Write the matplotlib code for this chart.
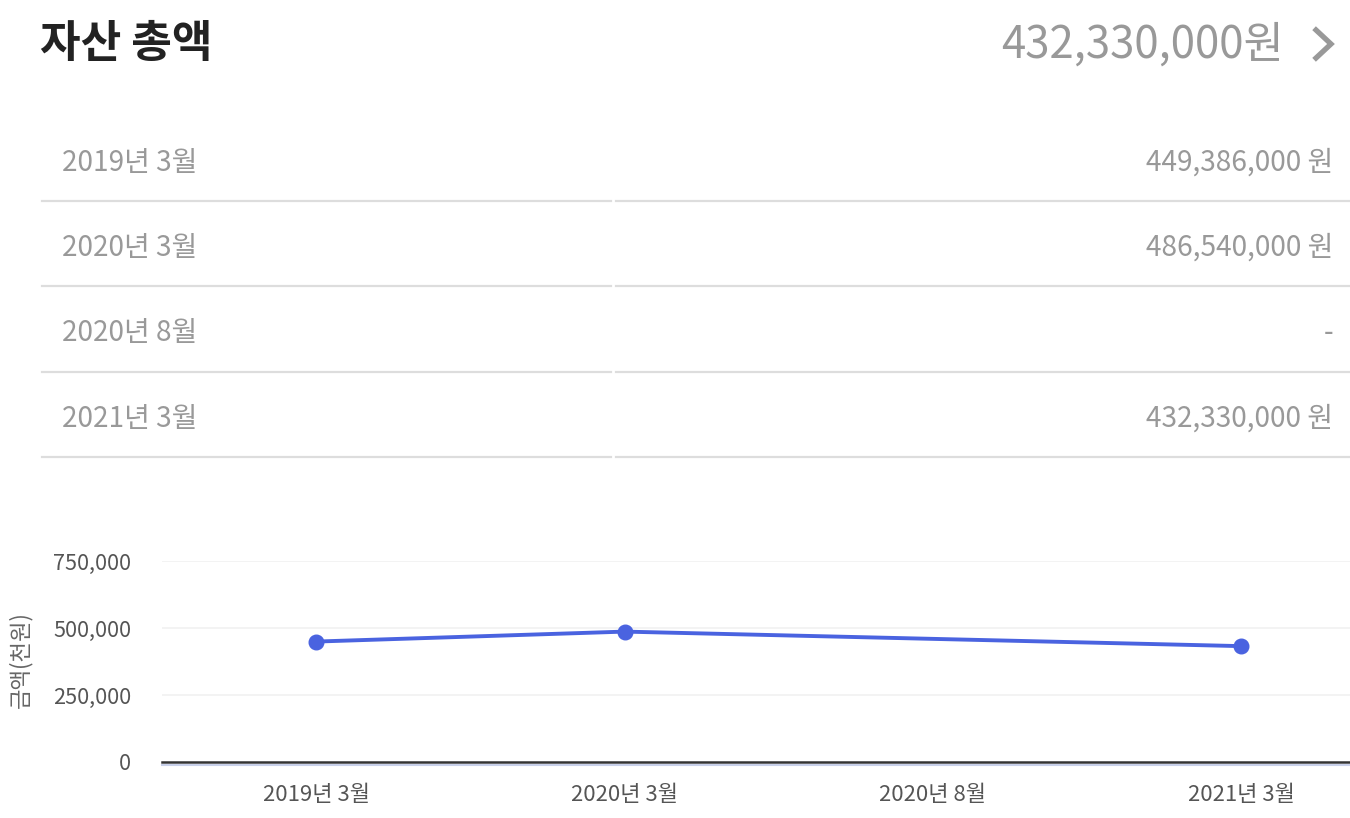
import matplotlib
matplotlib.use("Agg")
import matplotlib.pyplot as plt
from matplotlib.lines import Line2D

plt.rcParams['font.family'] = ['Noto Sans CJK KR', 'DejaVu Sans']

# ---- data ----
title = "자산 총액"
periods = ["2019년 3월", "2020년 3월", "2020년 8월", "2021년 3월"]
amounts_won = [449386000, 486540000, None, 432330000]
total_won = 432330000
y_ticks = [0, 250000, 500000, 750000]
y_label = "금액(천원)"

W, H = 1350, 818
fig = plt.figure(figsize=(W / 100, H / 100), dpi=100)

def fx(px):
    return px / W

def fy(py):
    return 1 - py / H

# header
fig.text(fx(40), fy(44), title, fontsize=31.8, fontweight='bold', color='#222222',
         ha='left', va='center')
fig.text(fx(1284), fy(45), f"{total_won:,}원", fontsize=31.5, color='#999999',
         ha='right', va='center')
fig.add_artist(Line2D([fx(1316), fx(1331), fx(1316)], [fy(30), fy(44), fy(58)],
                      color='#999999', lw=3.8, solid_joinstyle='miter',
                      transform=fig.transFigure))

# table
row_y = [163, 248, 333, 419]
div_y = [201, 286, 372, 457]
for name, val, ry, dy in zip(periods, amounts_won, row_y, div_y):
    fig.text(fx(62), fy(ry), name, fontsize=20.2, color='#999999', ha='left', va='center')
    txt = f"{val:,} 원" if val is not None else "-"
    fig.text(fx(1333), fy(ry), txt, fontsize=20.2, color='#999999', ha='right', va='center')
    for x0, x1 in [(42, 611), (616, 1350)]:
        fig.add_artist(Line2D([fx(x0), fx(x1)], [fy(dy), fy(dy)], color='#dddddd', lw=1.6,
                              transform=fig.transFigure))

# chart
ax = fig.add_axes([fx(162), fy(762), fx(1350) - fx(162), (762 - 561) / H])
xs = [i for i, v in enumerate(amounts_won) if v is not None]
ys = [amounts_won[i] / 1000 for i in xs]
ax.plot(xs, ys, color='#4a63e0', lw=2.8, marker='o', markersize=10.5, zorder=3,
        clip_on=False)
ax.set_xlim(-0.5, (1350 - 316) / 308.4)
ax.set_ylim(0, 750000)
ax.set_yticks(y_ticks)
ax.set_yticklabels([f"{t:,}" for t in y_ticks])
ax.set_xticks(range(len(periods)))
ax.set_xticklabels(periods)
for s in ax.spines.values():
    s.set_visible(False)
ax.tick_params(axis='y', length=0, labelsize=15.6, labelcolor='#555555', pad=22.3)
ax.tick_params(axis='x', length=0, labelsize=15.9, labelcolor='#555555', pad=16)
for t in y_ticks[1:]:
    ax.axhline(t, color='#f2f2f2', lw=1.3, zorder=0)
ax.axhline(0, color='#333333', lw=1.8, zorder=2, clip_on=False)
fig.add_artist(Line2D([fx(162), fx(1350)], [fy(764.5), fy(764.5)], color='#c8d0ea', lw=1.5,
                      transform=fig.transFigure))
fig.text(fx(20), fy(660), y_label, rotation=90, fontsize=16, color='#666666',
         ha='center', va='center')

fig.savefig("out.png", dpi=100)
